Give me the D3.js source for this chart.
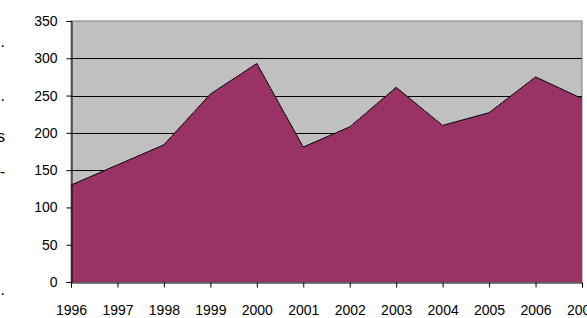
<!DOCTYPE html>
<html>
<head>
<meta charset="utf-8">
<script src="https://cdn.jsdelivr.net/npm/d3@7"></script>
<style>
  html, body { margin: 0; padding: 0; background: #fff; overflow: hidden; }
  svg { display: block; }
  text { font-family: "Liberation Sans", Arial, sans-serif; }
</style>
</head>
<body>
<svg id="chart" width="587" height="318"></svg>
<script>
const years = [1996, 1997, 1998, 1999, 2000, 2001, 2002, 2003, 2004, 2005, 2006, 2007];
const values = [130, 157, 184, 252, 293, 181, 208, 261, 210, 227, 275, 246];
const yTicks = [0, 50, 100, 150, 200, 250, 300, 350];
const sideMarks = [".", ".", "s", "-", "."];

(function () {
const svg = d3.select("#chart");
const pL = 71, pR = 582, pT = 21, pB = 282;

const x = d3.scaleLinear().domain([years[0], years[years.length - 1]]).range([pL, pR]);
const y = d3.scaleLinear().domain([0, 350]).range([pB, pT]);

// plot background
svg.append("rect")
  .attr("x", pL).attr("y", pT)
  .attr("width", pR - pL).attr("height", pB - pT)
  .attr("fill", "#c0c0c0")
  .attr("stroke", "#808080").attr("stroke-width", 1);

// gridlines
svg.append("g").selectAll("line")
  .data(yTicks.filter(d => d > 0 && d < 350))
  .join("line")
  .attr("x1", pL).attr("x2", pR)
  .attr("y1", d => Math.round(y(d)) + 0.5).attr("y2", d => Math.round(y(d)) + 0.5)
  .attr("stroke", "#000").attr("stroke-width", 1);

// area
const data = years.map((yr, i) => ({ yr, v: values[i] }));
const area = d3.area().x(d => x(d.yr)).y0(y(0)).y1(d => y(d.v));
const line = d3.line().x(d => x(d.yr)).y(d => y(d.v));
svg.append("path").datum(data)
  .attr("d", area)
  .attr("fill", "#993366");
svg.append("path").datum(data)
  .attr("d", line)
  .attr("fill", "none")
  .attr("stroke", "#000").attr("stroke-width", 1);

// axes
const yAxis = d3.axisLeft(y).tickValues(yTicks).tickSize(5).tickPadding(9).tickFormat(d3.format("d"));
const gy = svg.append("g").attr("transform", `translate(${pL + 0.5},0)`).call(yAxis);
gy.select(".domain").attr("stroke", "#000");
gy.selectAll(".tick line").attr("stroke", "#000");
gy.selectAll(".tick text").attr("font-size", 14).attr("fill", "#000")
  .attr("font-family", "'Liberation Sans', Arial, sans-serif");

const xAxis = d3.axisBottom(x).tickValues(years).tickSize(5).tickPadding(18).tickFormat(d3.format("d"));
const gx = svg.append("g").attr("transform", `translate(0,${pB + 0.5})`).call(xAxis);
gx.select(".domain").attr("stroke", "#000");
gx.selectAll(".tick line").attr("stroke", "#000");
gx.selectAll(".tick text").attr("font-size", 14).attr("fill", "#000")
  .attr("font-family", "'Liberation Sans', Arial, sans-serif");

// clipped remains of a side title at the left edge
const markY = [47, 101, 142, 177, 295];
svg.append("g").selectAll("text")
  .data(sideMarks)
  .join("text")
  .attr("x", 5).attr("y", (d, i) => markY[i])
  .attr("text-anchor", "end")
  .attr("font-size", 16)
  .attr("fill", "#000")
  .text(d => d);
})();
</script>
</body>
</html>
